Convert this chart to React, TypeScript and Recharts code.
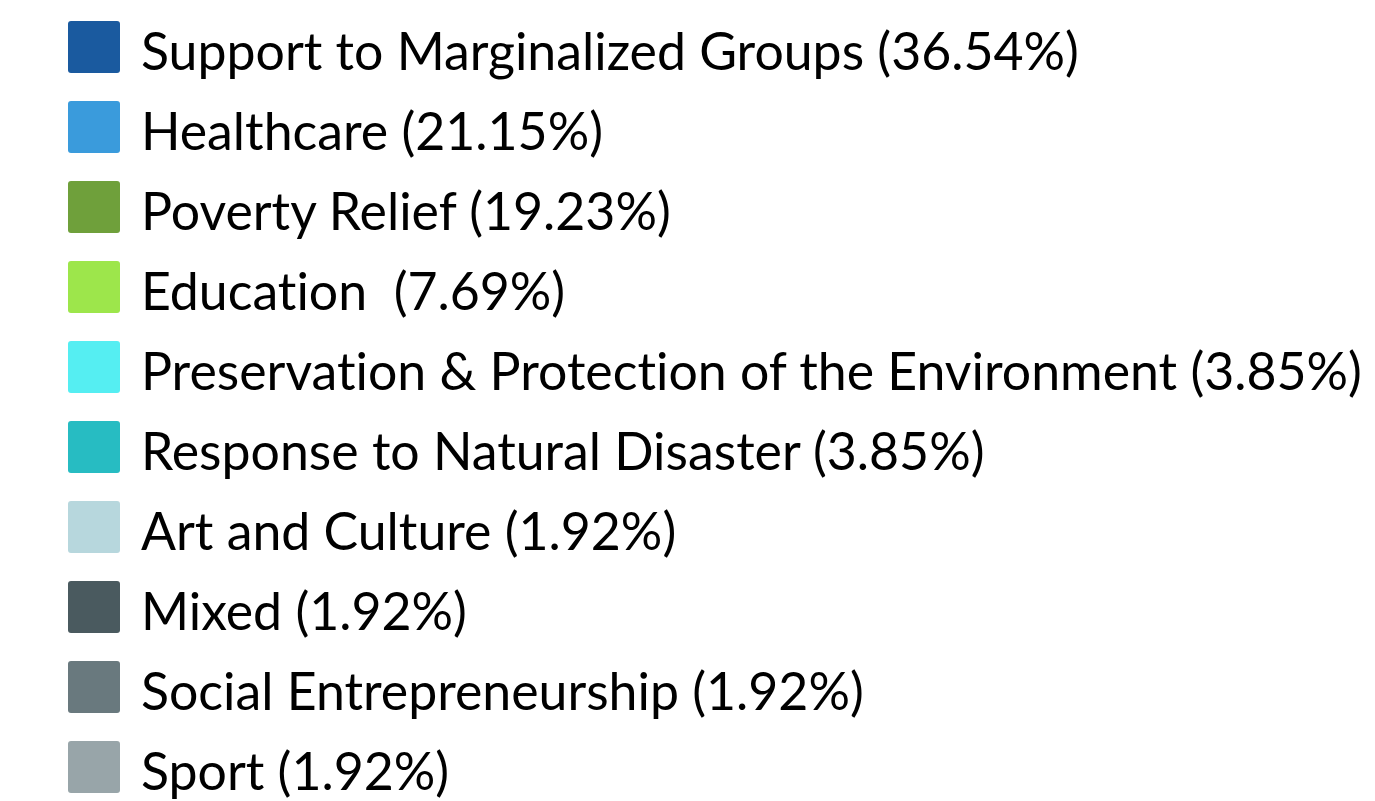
import React from "react";
import { PieChart, Pie, Cell, Legend } from "recharts";

const categories = [
  "Support to Marginalized Groups",
  "Healthcare",
  "Poverty Relief",
  "Education ",
  "Preservation & Protection of the Environment",
  "Response to Natural Disaster",
  "Art and Culture",
  "Mixed",
  "Social Entrepreneurship",
  "Sport",
];

const percentages = [36.54, 21.15, 19.23, 7.69, 3.85, 3.85, 1.92, 1.92, 1.92, 1.92];

const colors = [
  "#1A5A9F",
  "#3A9BDC",
  "#6FA03B",
  "#9DE64B",
  "#55EEF2",
  "#27BCC2",
  "#B7D7DD",
  "#4A5A5F",
  "#69797E",
  "#98A5A9",
];

const data = categories.map((name, i) => ({
  name: `${name} (${percentages[i].toFixed(2)}%)`,
  value: percentages[i],
}));

const order = data.map((d) => d.name);

const renderLegend = (props: any) => {
  const payload = [...(props.payload || [])].sort(
    (a: any, b: any) => order.indexOf(a.value) - order.indexOf(b.value)
  );
  return (
    <div style={{ margin: 0, padding: 0 }}>
      {payload.map((entry: any, i: number) => (
        <div
          key={i}
          style={{
            display: "flex",
            alignItems: "center",
            height: 80,
          }}
        >
          <span
            style={{
              display: "inline-block",
              width: 52,
              height: 52,
              borderRadius: 3,
              background: entry.color,
              marginRight: 21,
              flex: "none",
            }}
          />
          <span
            style={{
              fontFamily: "Lato, 'Noto Sans', sans-serif",
              fontSize: 51.8,
              color: "#000",
              whiteSpace: "pre",
              fontVariantLigatures: "none",
              position: "relative",
              top: 3,
            }}
          >
            {entry.value}
          </span>
        </div>
      ))}
    </div>
  );
};

export default function App() {
  return (
    <div
      style={{
        width: 1375,
        height: 801,
        margin: "-8px 0 0 -8px",
        overflow: "hidden",
        position: "relative",
      }}
    >
      <PieChart width={1375} height={801} style={{ overflow: "hidden" }}>
        <Pie
          data={data}
          dataKey="value"
          nameKey="name"
          cx={-2000}
          cy={-2000}
          outerRadius={1}
          isAnimationActive={false}
          legendType="square"
        >
          {data.map((d, i) => (
            <Cell key={i} fill={colors[i]} />
          ))}
        </Pie>
        <Legend
          layout="vertical"
          align="left"
          verticalAlign="top"
          content={renderLegend}
          wrapperStyle={{ position: "absolute", left: 68, top: 7, width: 1300 }}
        />
      </PieChart>
    </div>
  );
}
